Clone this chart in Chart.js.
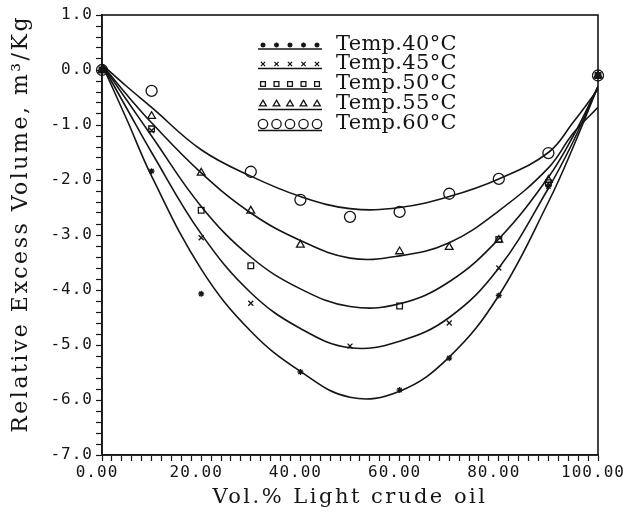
<!DOCTYPE html>
<html>
<head>
<meta charset="utf-8">
<script src="https://cdn.jsdelivr.net/npm/chart.js@4"></script>
<style>
  html, body { margin: 0; padding: 0; background: #fff; }
  #wrap { width: 623px; height: 515px; }
</style>
</head>
<body>
<div id="wrap"><canvas id="myChart" width="623" height="515"></canvas></div>
<script>
// measured points (vol.% light crude oil)
const pct = [0, 10, 20, 30, 40, 50, 60, 70, 80, 90, 100];
const t40 = [0, -1.84, -4.07, null, -5.49, null, -5.82, -5.24, -4.10, -2.12, -0.10];
const t45 = [0, -1.10, -3.05, -4.24, null, -5.02, null, -4.60, -3.60, -2.07, -0.10];
const t50 = [0, -1.07, -2.55, -3.56, null, null, -4.29, null, -3.08, -2.05, -0.10];
const t55 = [0, -0.84, -1.87, -2.56, -3.18, null, -3.30, -3.22, -3.09, -2.00, -0.10];
const t60 = [0, -0.38, null, -1.85, -2.36, -2.67, -2.58, -2.25, -1.98, -1.51, -0.10];

// fitted curves
const fitX = [0, 5, 10, 20, 30, 40, 50, 60, 70, 80, 90, 95, 100];
const fit40 = [0.1, -0.90, -1.93, -3.62, -4.75, -5.48, -5.95, -5.84, -5.22, -4.10, -2.40, -1.40, -0.30];
const fit45 = [0.1, -0.70, -1.50, -2.98, -4.05, -4.70, -5.05, -4.93, -4.50, -3.60, -2.15, -1.30, -0.30];
const fit50 = [0.1, -0.55, -1.20, -2.48, -3.40, -3.98, -4.30, -4.25, -3.85, -3.07, -1.95, -1.20, -0.30];
const fit55 = [0.1, -0.45, -0.96, -1.87, -2.60, -3.10, -3.42, -3.38, -3.14, -2.56, -1.78, -1.15, -0.68];
const fit60 = [0.1, -0.30, -0.68, -1.45, -1.93, -2.30, -2.52, -2.50, -2.30, -1.98, -1.50, -0.95, -0.35];

const labels = ['Temp.40°C', 'Temp.45°C', 'Temp.50°C', 'Temp.55°C', 'Temp.60°C'];
const markers = ['star', 'crossRot', 'rect', 'triangle', 'circle'];
const markerSize = [3, 3.5, 4, 4.5, 5.5];

const ink = '#151515';
const textFont = '"DejaVu Serif", serif';
const tickFont = '"DejaVu Sans Mono", monospace';

const toXY = (xs, ys) => xs.map((x, i) => ({x: x, y: ys[i]})).filter(p => p.y !== null);

const measured = [t40, t45, t50, t55, t60];
const fits = [fit40, fit45, fit50, fit55, fit60];

const datasets = [];
fits.forEach((f, i) => {
    datasets.push({
        label: labels[i] + ' fit',
        data: toXY(fitX, f),
        borderColor: ink,
        borderWidth: 1.6,
        pointRadius: 0,
        tension: 0.4,
        showLine: true,
        fill: false
    });
});
measured.forEach((m, i) => {
    datasets.push({
        label: labels[i],
        data: toXY(pct, m),
        showLine: false,
        pointStyle: markers[i],
        pointRadius: markerSize[i],
        pointBorderColor: ink,
        pointBackgroundColor: i === 0 ? ink : 'rgba(0,0,0,0)',
        pointBorderWidth: 1.3,
        clip: false
    });
});

// plotter lettering is spaced out: wide for titles, less for tick labels
// (tick labels sit on layer z=1, drawn after the datasets)
const spacingPlugin = {
    id: 'spacing',
    beforeDraw(chart) { chart.ctx.letterSpacing = '2.5px'; },
    afterDatasetsDraw(chart) { chart.ctx.letterSpacing = '1px'; },
    afterDraw(chart) { chart.ctx.letterSpacing = '0px'; }
};

// frame around the plot (top and right sides)
const framePlugin = {
    id: 'frame',
    afterDatasetsDraw(chart) {
        const {ctx, chartArea: a} = chart;
        ctx.save();
        ctx.strokeStyle = ink;
        ctx.lineWidth = 1.6;
        ctx.strokeRect(a.left, a.top, a.right - a.left, a.bottom - a.top);
        ctx.restore();
    }
};

// legend with five markers on a line, like the plotter legend
const legendPlugin = {
    id: 'rowLegend',
    afterDraw(chart) {
        const ctx = chart.ctx;
        const x0 = 263, gap = 13.5, textX = 336, rowY = [45, 64, 84, 104, 124];
        ctx.save();
        ctx.letterSpacing = '0.3px';
        labels.forEach((lab, i) => {
            const y = rowY[i];
            ctx.strokeStyle = ink;
            ctx.fillStyle = i === 0 ? ink : 'rgba(0,0,0,0)';
            ctx.lineWidth = 1.3;
            for (let k = 0; k < 5; k++) {
                Chart.helpers.drawPoint(ctx, {pointStyle: markers[i], radius: markerSize[i] * 0.85, borderWidth: 1.3}, x0 + k * gap, y);
            }
            ctx.beginPath();
            ctx.lineWidth = 1.4;
            ctx.moveTo(x0 - 5, y + markerSize[i] + 1);
            ctx.lineTo(x0 + 4 * gap + 5, y + markerSize[i] + 1);
            ctx.stroke();
            ctx.fillStyle = ink;
            ctx.font = '21px ' + textFont;
            ctx.textBaseline = 'middle';
            ctx.fillText(lab, textX, y);
        });
        ctx.restore();
    }
};

const isMajor = (v, step) => Math.abs(v / step - Math.round(v / step)) < 1e-6;

new Chart(document.getElementById('myChart'), {
    type: 'scatter',
    data: {datasets: datasets},
    options: {
        responsive: false,
        animation: false,
        layout: {padding: {top: 15, right: 25, left: 0, bottom: 0}},
        plugins: {legend: {display: false}, tooltip: {enabled: false}},
        scales: {
            x: {
                type: 'linear', min: 0, max: 100,
                grid: {drawOnChartArea: false, tickLength: 6, color: ink, tickWidth: 1.2},
                border: {color: ink, width: 1.6},
                ticks: {
                    stepSize: 2, autoSkip: false, maxRotation: 0, color: ink, padding: 2, z: 1,
                    labelOffset: -5,
                    font: {family: tickFont, size: 16},
                    callback: v => isMajor(v, 20) ? v.toFixed(2) : ''
                },
                title: {display: true, text: 'Vol.% Light crude oil', color: ink,
                        font: {family: textFont, size: 21}, padding: {top: 0, bottom: 5}},
                afterFit(s) { s.height = 60; s.paddingLeft = 0; s.paddingRight = 0; }
            },
            y: {
                type: 'linear', min: -7, max: 1,
                grid: {drawOnChartArea: false, tickLength: 6, color: ink, tickWidth: 1.2},
                border: {color: ink, width: 1.6},
                ticks: {
                    stepSize: 0.2, autoSkip: false, color: ink, padding: 3, z: 1,
                    font: {family: tickFont, size: 16},
                    callback: v => isMajor(v, 1) ? Math.round(v).toFixed(1) : ''
                },
                title: {display: true, text: 'Relative Excess Volume, m³/Kg', color: ink, align: 'end',
                        font: {family: textFont, size: 22}, padding: {top: 8, bottom: 0}},
                afterFit(s) { s.width = 102; s.paddingTop = 0; s.paddingBottom = 0; }
            }
        }
    },
    plugins: [spacingPlugin, framePlugin, legendPlugin]
});
</script>
</body>
</html>
